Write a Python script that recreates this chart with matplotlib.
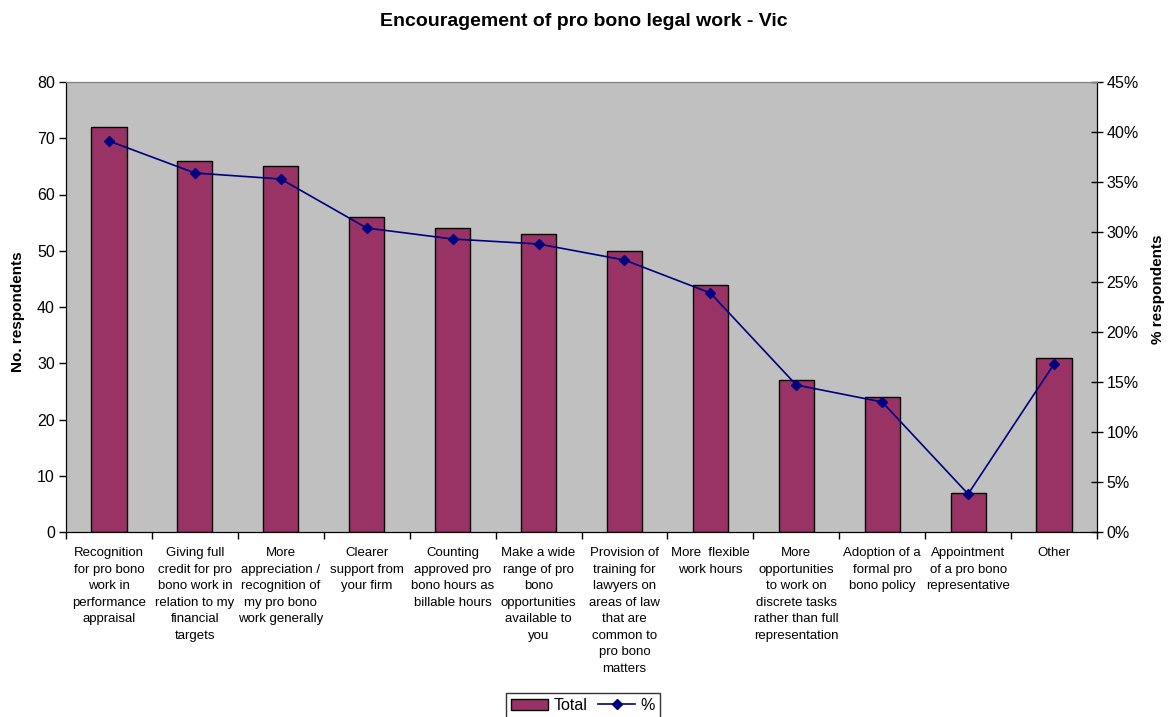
import matplotlib
matplotlib.use("Agg")
import matplotlib.pyplot as plt
from matplotlib.patches import Patch
from matplotlib.lines import Line2D
import numpy as np

plt.rcParams['font.family'] = ['Liberation Sans', 'DejaVu Sans']

categories = [
    "Recognition\nfor pro bono\nwork in\nperformance\nappraisal",
    "Giving full\ncredit for pro\nbono work in\nrelation to my\nfinancial\ntargets",
    "More\nappreciation /\nrecognition of\nmy pro bono\nwork generally",
    "Clearer\nsupport from\nyour firm",
    "Counting\napproved pro\nbono hours as\nbillable hours",
    "Make a wide\nrange of pro\nbono\nopportunities\navailable to\nyou",
    "Provision of\ntraining for\nlawyers on\nareas of law\nthat are\ncommon to\npro bono\nmatters",
    "More  flexible\nwork hours",
    "More\nopportunities\nto work on\ndiscrete tasks\nrather than full\nrepresentation",
    "Adoption of a\nformal pro\nbono policy",
    "Appointment\nof a pro bono\nrepresentative",
    "Other",
]
totals = [72, 66, 65, 56, 54, 53, 50, 44, 27, 24, 7, 31]
percents = [39.1, 35.9, 35.3, 30.4, 29.3, 28.8, 27.2, 23.9, 14.7, 13.0, 3.8, 16.8]
left_ticks = [0, 10, 20, 30, 40, 50, 60, 70, 80]
right_ticks = [0, 5, 10, 15, 20, 25, 30, 35, 40, 45]

bar_color = '#993366'
line_color = '#000080'

fig = plt.figure(figsize=(11.68, 7.17), dpi=100)
ax = fig.add_axes([66/1168, 1-532/717, (1097-66)/1168, (532-82)/717])
ax.set_facecolor('#C0C0C0')

x = np.arange(len(categories))
ax.bar(x, totals, width=0.41, color=bar_color, edgecolor='black', linewidth=1, zorder=2)
ax.set_xlim(-0.5, len(categories) - 0.5)
ax.set_ylim(0, 80)
ax.set_yticks(left_ticks)
ax.set_yticklabels([str(t) for t in left_ticks], fontsize=11.5)
ax.tick_params(axis='y', direction='out', length=5, width=1, pad=3)
ax.set_xticks(x)
ax.set_xticklabels(categories, fontsize=9.5, va='top', ha='center', linespacing=1.5)
ax.tick_params(axis='x', which='major', length=0, pad=11)
ax.set_xticks(np.arange(-0.5, len(categories) + 0.5, 1), minor=True)
ax.tick_params(axis='x', which='minor', direction='out', length=5, width=1)
ax.set_ylabel('No. respondents', fontsize=11, fontweight='bold')
ax.yaxis.set_label_coords(-41/1031, 0.49)

ax2 = ax.twinx()
ax2.plot(x, percents, color=line_color, linewidth=1.2, marker='D', markersize=5,
         markerfacecolor=line_color, markeredgecolor=line_color, zorder=3)
ax2.set_ylim(0, 45)
ax2.set_yticks(right_ticks)
ax2.set_yticklabels([f"{t}%" for t in right_ticks], fontsize=11.5)
ax2.tick_params(axis='y', direction='inout', length=8, width=1, pad=3)
ax2.set_ylabel('% respondents', fontsize=11, fontweight='bold')
ax2.yaxis.set_label_coords(1 + 54/1031, 0.54)

for a in (ax, ax2):
    a.spines['top'].set_color('#808080')
    a.spines['left'].set_color('black')
    a.spines['right'].set_color('black')
    a.spines['bottom'].set_color('black')

fig.text(0.5, 1-22/717, 'Encouragement of pro bono legal work - Vic', ha='center', va='center',
         fontsize=14, fontweight='bold')

handles = [Patch(facecolor=bar_color, edgecolor='black', linewidth=1),
           Line2D([0], [0], color=line_color, linewidth=1.2, marker='D', markersize=5)]
leg = fig.legend(handles, ['Total', '%'], loc='upper center', bbox_to_anchor=(583/1168, 1-693/717),
                 ncol=2, fontsize=11.5, frameon=True, fancybox=False, edgecolor='black',
                 handlelength=2.3, handleheight=0.7, handletextpad=0.35, columnspacing=0.7,
                 borderpad=0.3, borderaxespad=0)
leg.get_frame().set_linewidth(1)

fig.savefig('out.png', dpi=100)
